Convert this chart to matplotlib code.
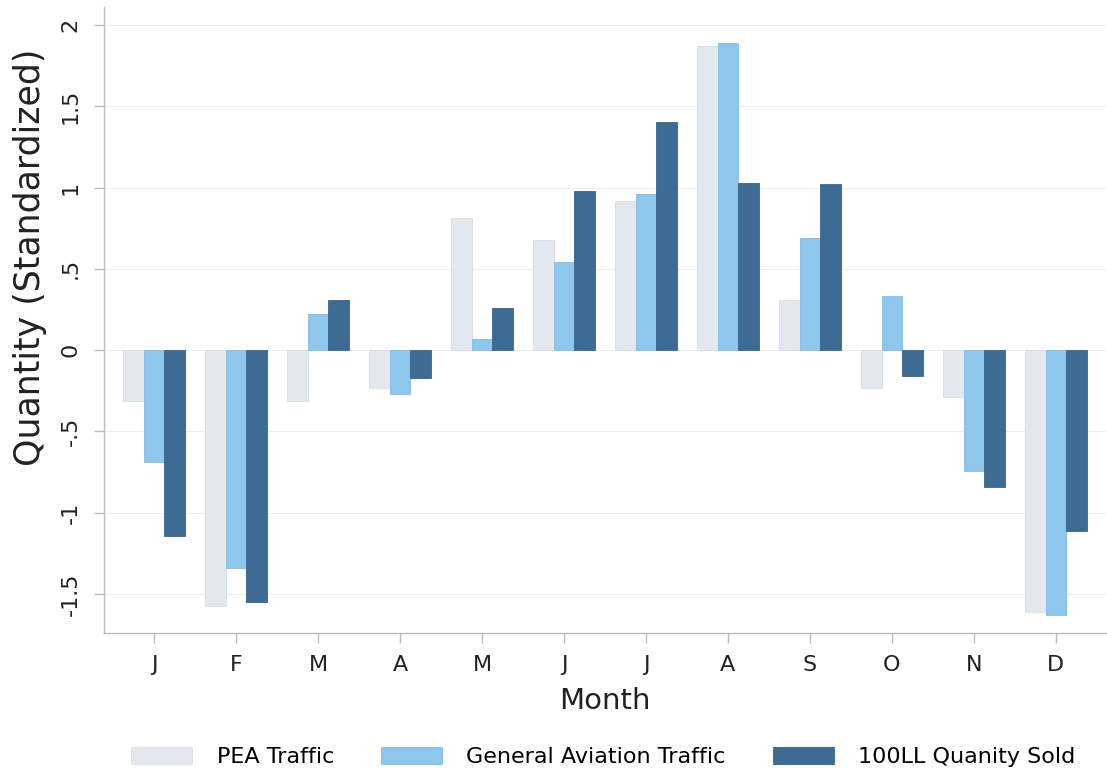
import matplotlib
matplotlib.use("Agg")
import matplotlib.pyplot as plt
import numpy as np

# month initials and standardized series
months = ["J", "F", "M", "A", "M", "J", "J", "A", "S", "O", "N", "D"]
pea_traffic = [-0.31, -1.57, -0.31, -0.23, 0.81, 0.68, 0.92, 1.87, 0.31, -0.23, -0.29, -1.61]
ga_traffic = [-0.69, -1.34, 0.22, -0.27, 0.07, 0.54, 0.96, 1.89, 0.69, 0.33, -0.74, -1.63]
ll100_sold = [-1.14, -1.55, 0.31, -0.17, 0.26, 0.98, 1.40, 1.03, 1.02, -0.16, -0.84, -1.11]

series = ["PEA Traffic", "General Aviation Traffic", "100LL Quanity Sold"]
colors = ["#e2e8ed", "#8fc7ec", "#3e6b93"]
edges = ["#d6dee4", "#84bde3", "#386489"]

plt.rcParams["font.family"] = ["DejaVu Sans"]

fig = plt.figure(figsize=(11.07, 7.75), dpi=100)
ax = fig.add_axes([0.094, 0.183, 0.905, 0.808])

x = np.arange(len(months))
w = 0.25
for i, vals in enumerate([pea_traffic, ga_traffic, ll100_sold]):
    ax.bar(x + (i - 1) * w, vals, w, color=colors[i], edgecolor=edges[i],
           linewidth=0.6, label=series[i], zorder=3)

ax.set_xlim(-0.61, 11.61)
ax.set_ylim(-1.74, 2.11)
ax.set_xticks(x)
ax.set_xticklabels(months, fontsize=16)
ax.set_yticks([-1.5, -1, -0.5, 0, 0.5, 1, 1.5, 2])
ax.set_yticklabels(["-1.5", "-1", "-.5", "0", ".5", "1", "1.5", "2"],
                   rotation=90, va="center", fontsize=16)

ax.grid(axis="y", color="#eeeeee", linewidth=0.8, zorder=0)
for s in ["top", "right"]:
    ax.spines[s].set_visible(False)
for s in ["left", "bottom"]:
    ax.spines[s].set_color("#bbbbbb")
    ax.spines[s].set_linewidth(1.0)
ax.tick_params(axis="both", colors="#bbbbbb", labelcolor="#222222",
               length=7, width=1.0)
ax.tick_params(axis="x", pad=9)
ax.tick_params(axis="y", pad=10)

ax.set_xlabel("Month", fontsize=21, labelpad=8, color="#222222")
ax.set_ylabel("Quantity (Standardized)", fontsize=25, labelpad=10, color="#222222")
ax.yaxis.label.set_y(0.6)

fig.legend(loc="center", bbox_to_anchor=(0.545, 18 / 775), ncol=3,
           frameon=False, fontsize=16, handlelength=2.75, handleheight=0.77,
           columnspacing=2.1, handletextpad=1.1)

plt.savefig("out.png", dpi=100)
